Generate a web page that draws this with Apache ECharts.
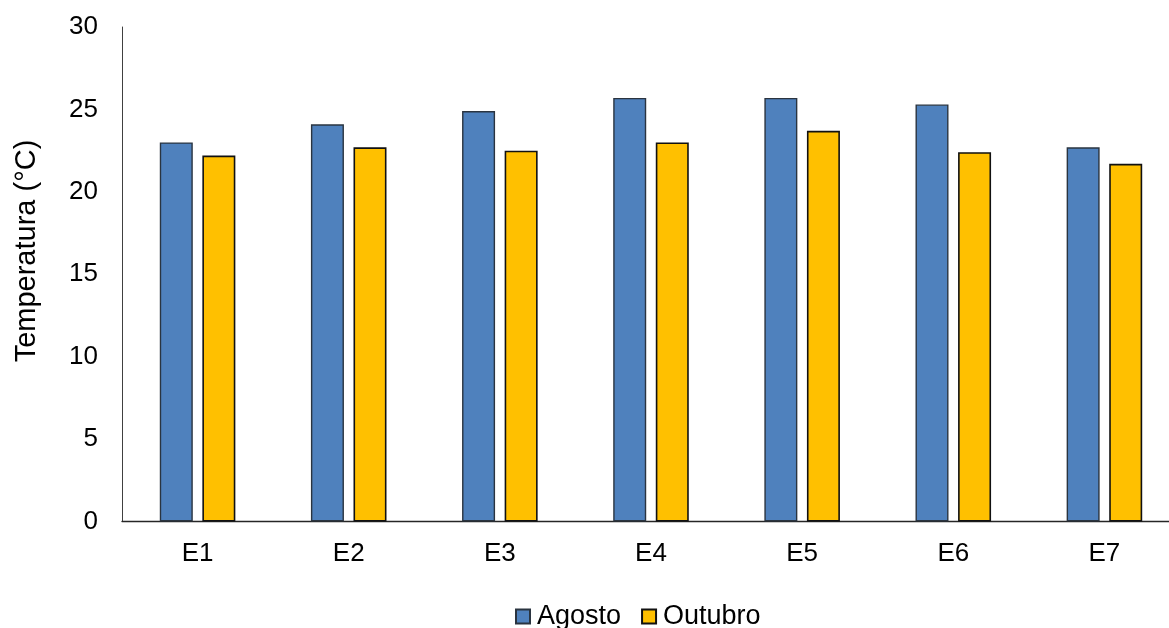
<!DOCTYPE html>
<html>
<head>
<meta charset="utf-8">
<script src="https://cdn.jsdelivr.net/npm/echarts@6/dist/echarts.min.js"></script>
<style>html,body{margin:0;padding:0;background:#fff}#c{width:1169px;height:628px}</style>
</head>
<body>
<div id="c"></div>
<script>
var categories = ['E1','E2','E3','E4','E5','E6','E7'];
var agosto = [23.0, 24.1, 24.9, 25.7, 25.7, 25.3, 22.7];
var outubro = [22.2, 22.7, 22.5, 23.0, 23.7, 22.4, 21.7];
var yTicks = {min: 0, max: 30, interval: 5};
var yTitle = 'Temperatura (°C)';
var seriesNames = ['Agosto', 'Outubro'];

var FONT = '"Liberation Sans", Arial, sans-serif';
var chart = echarts.init(document.getElementById('c'), null, {renderer: 'canvas'});
chart.setOption({
  animation: false,
  backgroundColor: '#ffffff',
  grid: {left: 122, top: 27, right: -11, bottom: 106.5, containLabel: false, outerBoundsMode: 'none'},
  legend: {
    data: seriesNames,
    left: 510, top: 598,
    itemWidth: 14, itemHeight: 14, itemGap: 20,
    icon: 'rect',
    textStyle: {fontFamily: FONT, fontSize: 27, color: '#000', padding: [0,0,0,2]}
  },
  xAxis: {
    type: 'category',
    data: categories,
    axisLine: {lineStyle: {color: '#262626', width: 1.3}},
    axisTick: {show: false},
    axisLabel: {fontFamily: FONT, fontSize: 26, color: '#000', margin: 19}
  },
  yAxis: {
    type: 'value',
    min: yTicks.min, max: yTicks.max, interval: yTicks.interval,
    axisLine: {show: true, lineStyle: {color: '#404040', width: 1}},
    axisTick: {show: false},
    splitLine: {show: false},
    axisLabel: {fontFamily: FONT, fontSize: 26, color: '#000', margin: 24}
  },
  graphic: [{
    type: 'text',
    x: 27, y: 251,
    rotation: Math.PI / 2,
    style: {text: yTitle, fontFamily: FONT, fontSize: 29, fill: '#000', textAlign: 'center', textVerticalAlign: 'middle'}
  }],
  series: [
    {name: seriesNames[0], type: 'bar', data: agosto, barWidth: 33, barGap: '29%',
     itemStyle: {color: '#4F81BD', borderColor: '#2a3440', borderWidth: 1.4}},
    {name: seriesNames[1], type: 'bar', data: outubro, barWidth: 33,
     itemStyle: {color: '#FFC000', borderColor: '#111111', borderWidth: 1.6}}
  ]
});
</script>
</body>
</html>
